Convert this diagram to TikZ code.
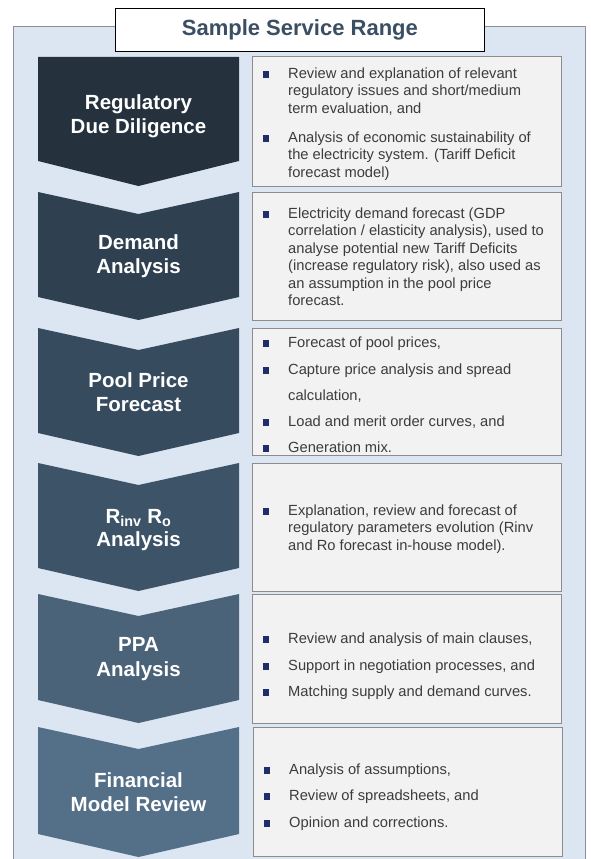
\documentclass[tikz,border=0pt]{standalone}
\usepackage{fontspec}
\setmainfont{Liberation Sans}
\definecolor{panelbg}{HTML}{DCE6F2}
\definecolor{panelborder}{HTML}{8A9099}
\definecolor{boxfill}{HTML}{F2F2F2}
\definecolor{boxborder}{HTML}{8C8C8C}
\definecolor{bodytext}{HTML}{3C3C3C}
\definecolor{bulletc}{HTML}{1F2D6B}
\definecolor{titlec}{HTML}{3A4F63}
\definecolor{chevA}{HTML}{25313D}
\definecolor{chevB}{HTML}{2F4051}
\definecolor{chevC}{HTML}{374B5E}
\definecolor{chevD}{HTML}{3D5468}
\definecolor{chevE}{HTML}{4A6379}
\definecolor{chevF}{HTML}{546F88}
\begin{document}
\begin{tikzpicture}[x=1pt,y=-1pt,
  panel/.style={fill=panelbg, draw=panelborder, line width=1pt},
  txtbox/.style={fill=boxfill, draw=boxborder, line width=1pt},
  titlebox/.style={fill=white, draw=black, line width=0.8pt},
  chevtext/.style={text=white, font=\fontsize{20.5}{24.5}\selectfont\bfseries, align=center, inner sep=0},
  item/.style={anchor=base west, text=bodytext, font=\fontsize{14.7}{17}\selectfont, inner sep=0},
  bulletsq/.style={fill=bulletc, minimum size=6.5pt, inner sep=0, anchor=center}]
\useasboundingbox (0,0) rectangle (590,859);
% panel
\draw[panel] (13,27) rectangle (585,875);
% title
\node[titlebox, minimum width=369pt, minimum height=43pt, anchor=north west] (title) at (115,8) {};
\node[text=titlec, font=\fontsize{22}{25}\selectfont\bfseries] (titletext) at (title.center) {Sample Service Range};
% chevrons
\fill[chevA] (38,57) -- (239,57) -- (239,161) -- (138.5,186) -- (38,161) -- cycle;
\fill[chevB] (38,192) -- (138.5,214) -- (239,192) -- (239,297) -- (138.5,320) -- (38,297) -- cycle;
\fill[chevC] (38,328) -- (138.5,350) -- (239,328) -- (239,433) -- (138.5,456) -- (38,433) -- cycle;
\fill[chevD] (38,463) -- (138.5,485) -- (239,463) -- (239,568) -- (138.5,591) -- (38,568) -- cycle;
\fill[chevE] (38,594) -- (138.5,616) -- (239,594) -- (239,700) -- (138.5,723) -- (38,700) -- cycle;
\fill[chevF] (38,727) -- (138.5,749) -- (239,727) -- (239,834) -- (138.5,857) -- (38,834) -- cycle;
\node[chevtext] (c1) at (138.5,116) {Regulatory\\Due Diligence};
\node[chevtext] (c2) at (138.5,256) {Demand\\Analysis};
\node[chevtext] (c3) at (138.5,392) {Pool Price\\Forecast};
\node[chevtext, font=\fontsize{20.5}{22.5}\selectfont\bfseries] (c4) at (138.5,530) {R\textsubscript{inv} R\textsubscript{o}\\Analysis};
\node[chevtext] (c5) at (138.5,659) {PPA\\Analysis};
\node[chevtext] (c6) at (138.5,792) {Financial\\Model Review};
% text boxes
\draw[txtbox] (252,57) rectangle (561,186);
\draw[txtbox] (252,192) rectangle (561,320);
\draw[txtbox] (252,328) rectangle (561,455);
\draw[txtbox] (252,463) rectangle (561,591);
\draw[txtbox] (252,594) rectangle (561,723);
\draw[txtbox] (253,727) rectangle (562,856);
% box 1
\node[bulletsq] (b11) at (266,74.5) {};
\node[item] (t11) at (288,78) {Review and explanation of relevant};
\node[item] (t12) at (288,95.5) {regulatory issues and short/medium};
\node[item] (t13) at (288,113) {term evaluation, and};
\node[bulletsq] (b12) at (266,138.5) {};
\node[item] (t14) at (288,142) {Analysis of economic sustainability of};
\node[item] (t15) at (288,159.5) {the electricity system. (Tariff Deficit};
\node[item] (t16) at (288,177) {forecast model)};
% box 2
\node[bulletsq] (b21) at (266,214.5) {};
\node[item] (t21) at (288,218) {Electricity demand forecast (GDP};
\node[item] (t22) at (288,235.5) {correlation / elasticity analysis), used to};
\node[item] (t23) at (288,253) {analyse potential new Tariff Deficits};
\node[item] (t24) at (288,270.5) {(increase regulatory risk), also used as};
\node[item] (t25) at (288,288) {an assumption in the pool price};
\node[item] (t26) at (288,305.5) {forecast.};
% box 3
\node[bulletsq] (b31) at (266,343.5) {};
\node[item] (t31) at (288,347) {Forecast of pool prices,};
\node[bulletsq] (b32) at (266,370.5) {};
\node[item] (t32) at (288,374) {Capture price analysis and spread};
\node[item] (t33) at (288,400) {calculation,};
\node[bulletsq] (b33) at (266,422.5) {};
\node[item] (t34) at (288,426) {Load and merit order curves, and};
\node[bulletsq] (b34) at (266,448.5) {};
\node[item] (t35) at (288,452) {Generation mix.};
% box 4
\node[bulletsq] (b41) at (266,511.5) {};
\node[item] (t41) at (288,515) {Explanation, review and forecast of};
\node[item] (t42) at (288,532.5) {regulatory parameters evolution (Rinv};
\node[item] (t43) at (288,550) {and Ro forecast in-house model).};
% box 5
\node[bulletsq] (b51) at (266,639.5) {};
\node[item] (t51) at (288,643) {Review and analysis of main clauses,};
\node[bulletsq] (b52) at (266,666.5) {};
\node[item] (t52) at (288,670) {Support in negotiation processes, and};
\node[bulletsq] (b53) at (266,692.5) {};
\node[item] (t53) at (288,696) {Matching supply and demand curves.};
% box 6
\node[bulletsq] (b61) at (267,770.5) {};
\node[item] (t61) at (289,774) {Analysis of assumptions,};
\node[bulletsq] (b62) at (267,796.5) {};
\node[item] (t62) at (289,800) {Review of spreadsheets, and};
\node[bulletsq] (b63) at (267,823.5) {};
\node[item] (t63) at (289,827) {Opinion and corrections.};
\end{tikzpicture}
\end{document}
